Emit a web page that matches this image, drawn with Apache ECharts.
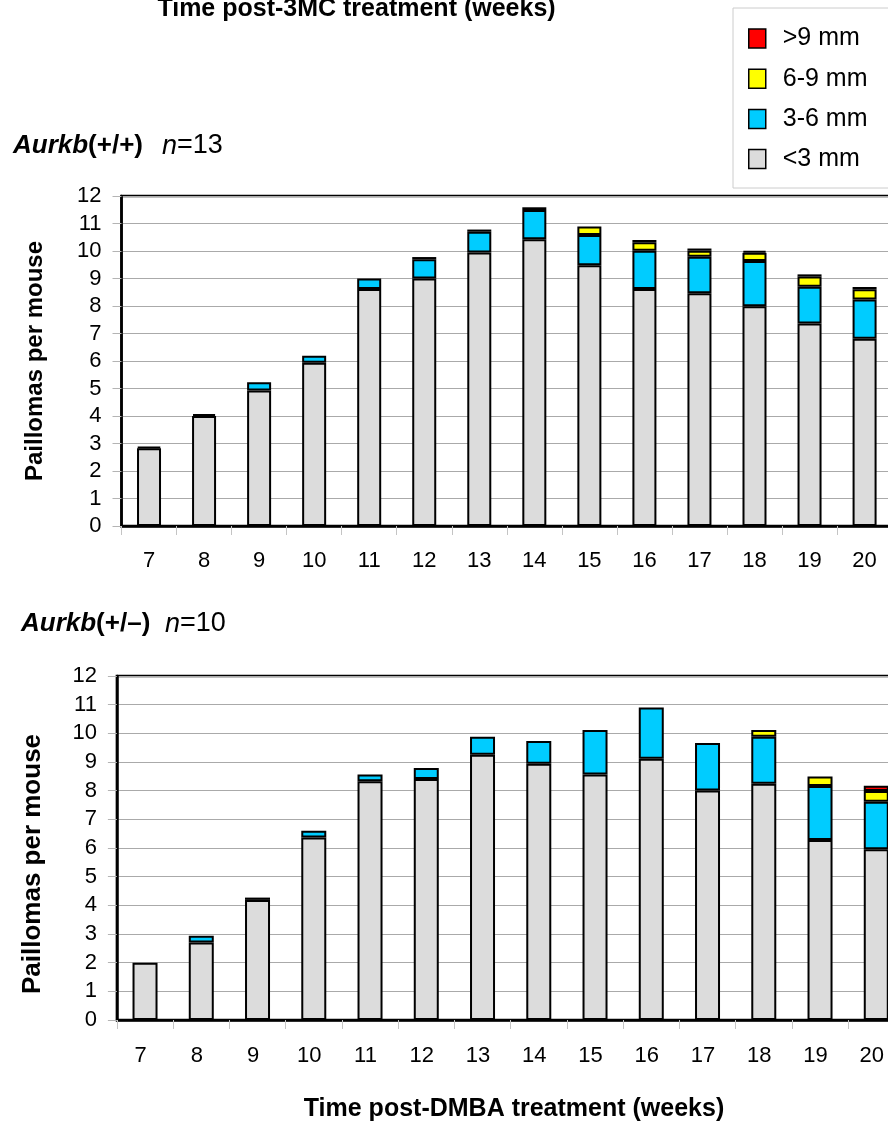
<!DOCTYPE html>
<html>
<head>
<meta charset="utf-8">
<script src="https://cdn.jsdelivr.net/npm/echarts@6/dist/echarts.min.js"></script>
<style>html,body{margin:0;padding:0;background:#fff}#c{width:888px;height:1130px}</style>
</head>
<body>
<div id="c"></div>
<script>
// ---- data ----
const weeks = ['7','8','9','10','11','12','13','14','15','16','17','18','19','20'];
const yTicks = [0,1,2,3,4,5,6,7,8,9,10,11,12];
const sizeNames = ['<3 mm','3-6 mm','6-9 mm','>9 mm'];
const legendOrder = ['>9 mm','6-9 mm','3-6 mm','<3 mm'];

// Aurkb(+/+) n=13
const wtLt3  = [2.83, 4.00, 4.93, 5.94, 8.62, 9.00, 9.95, 10.43, 9.48, 8.62, 8.46, 7.99, 7.36, 6.81];
const wt3to6 = [0.05, 0.07, 0.30, 0.25, 0.38, 0.70, 0.75, 1.06, 1.10, 1.39, 1.33, 1.65, 1.34, 1.43];
const wt6to9 = [null, null, null, null, null, 0.08, 0.08, 0.10, 0.31, 0.31, 0.22, 0.30, 0.37, 0.37];
const wtGt9  = [null, null, null, null, null, null, null, null, null, 0.08, 0.08, 0.06, 0.08, 0.08];

// Aurkb(+/-) n=10
const hetLt3  = [2.00, 2.70, 4.19, 6.37, 8.33, 8.41, 9.25, 8.94, 8.56, 9.11, 8.01, 8.24, 6.28, 5.96];
const het3to6 = [null, 0.24, 0.08, 0.23, 0.23, 0.38, 0.63, 0.79, 1.56, 1.79, 1.65, 1.64, 1.88, 1.65];
const het6to9 = [null, null, null, null, null, null, null, null, null, null, null, 0.24, 0.33, 0.38];
const hetGt9  = [null, null, null, null, null, null, null, null, null, null, null, null, null, 0.18];

// ---- styles ----
const FONT = "'Liberation Sans', Arial, sans-serif";
const colors = {'<3 mm':'#dcdcdc','3-6 mm':'#00ccff','6-9 mm':'#ffff00','>9 mm':'#ff0000'};

function bar(name, data, idx, width){
  return {
    name: name, type: 'bar', stack: idx === 0 ? 'wt' : 'het',
    xAxisIndex: idx, yAxisIndex: idx, data: data, barWidth: width,
    itemStyle: {color: colors[name], borderColor: '#000', borderWidth: 2}
  };
}

function xAxisCfg(gi, margin, pad){
  return {
    type: 'category', gridIndex: gi, data: weeks, boundaryGap: true,
    axisLine: {show: true, lineStyle: {color: '#000', width: 2.5}},
    axisTick: {show: true, length: 9, lineStyle: {color: '#c4c4c4', width: 1}},
    axisLabel: {color: '#000', fontFamily: FONT, fontSize: 22, margin: margin, padding: pad},
    splitLine: {show: false}
  };
}
function yAxisCfg(gi){
  return {
    type: 'value', gridIndex: gi, min: yTicks[0], max: yTicks[yTicks.length-1], interval: 1,
    axisLine: {show: true, lineStyle: {color: '#000', width: 2.5}},
    axisTick: {show: true, length: 9, lineStyle: {color: '#b4b4b4', width: 1}},
    axisLabel: {color: '#000', fontFamily: FONT, fontSize: 22, margin: 20,
                verticalAlign: 'middle', padding: [16, 0, 0, 0]},
    splitLine: {show: true, lineStyle: {color: '#aaaaaa', width: 1.2}}
  };
}

const chart = echarts.init(document.getElementById('c'), null, {renderer: 'canvas'});
chart.setOption({
  animation: false,
  backgroundColor: '#fff',
  grid: [
    {left: 121.5, top: 196, width: 770.6, height: 330, outerBoundsMode: 'none', containLabel: false,
     show: true, borderColor: '#000', borderWidth: 2.5, backgroundColor: 'transparent'},
    {left: 116.9, top: 676, width: 787.5, height: 344, outerBoundsMode: 'none', containLabel: false,
     show: true, borderColor: '#000', borderWidth: 2.5, backgroundColor: 'transparent'}
  ],
  xAxis: [xAxisCfg(0, 24, [0, 0, 0, 0]), xAxisCfg(1, 25, [0, 9, 0, 0])],
  yAxis: [yAxisCfg(0), yAxisCfg(1)],
  legend: {
    data: legendOrder, orient: 'vertical', left: 748, top: 26, padding: 0,
    icon: 'rect', itemWidth: 17, itemHeight: 19, itemGap: 15.2,
    itemStyle: {borderColor: '#000', borderWidth: 1.5},
    textStyle: {color: '#000', fontFamily: FONT, fontSize: 25, padding: [0,0,0,12]}
  },
  graphic: [
    {type: 'rect', shape: {x: 733, y: 8, width: 220, height: 180}, style: {fill: 'transparent', stroke: '#cccccc', lineWidth: 1}, z: 0},
    {type: 'text', x: 356.5, y: 8.7, style: {text: 'Time post-3MC treatment (weeks)', fontFamily: FONT, fontWeight: 'bold', fontSize: 25, fill: '#000', align: 'center', verticalAlign: 'middle'}},
    {type: 'text', x: 514, y: 1108.7, style: {text: 'Time post-DMBA treatment (weeks)', fontFamily: FONT, fontWeight: 'bold', fontSize: 25, fill: '#000', align: 'center', verticalAlign: 'middle'}},
    {type: 'text', x: 35, y: 361, rotation: Math.PI/2, style: {text: 'Paillomas per mouse', fontFamily: FONT, fontWeight: 'bold', fontSize: 24, fill: '#000', align: 'center', verticalAlign: 'middle'}},
    {type: 'text', x: 33, y: 864, rotation: Math.PI/2, style: {text: 'Paillomas per mouse', fontFamily: FONT, fontWeight: 'bold', fontSize: 26, fill: '#000', align: 'center', verticalAlign: 'middle'}},
    {type: 'text', x: 13, y: 146, style: {text: '{a|Aurkb}{b|(+/+)}', verticalAlign: 'middle', align: 'left',
      rich: {a: {fontFamily: FONT, fontWeight: 'bold', fontStyle: 'italic', fontSize: 26, fill: '#000'},
             b: {fontFamily: FONT, fontWeight: 'bold', fontSize: 26, fill: '#000'}}}},
    {type: 'text', x: 162, y: 146, style: {text: '{a|n}{b|=13}', verticalAlign: 'middle', align: 'left',
      rich: {a: {fontFamily: FONT, fontStyle: 'italic', fontSize: 27, fill: '#000'},
             b: {fontFamily: FONT, fontSize: 27, fill: '#000'}}}},
    {type: 'text', x: 21, y: 624, style: {text: '{a|Aurkb}{b|(+/\u2013)}', verticalAlign: 'middle', align: 'left',
      rich: {a: {fontFamily: FONT, fontWeight: 'bold', fontStyle: 'italic', fontSize: 26, fill: '#000'},
             b: {fontFamily: FONT, fontWeight: 'bold', fontSize: 26, fill: '#000'}}}},
    {type: 'text', x: 165, y: 624, style: {text: '{a|n}{b|=10}', verticalAlign: 'middle', align: 'left',
      rich: {a: {fontFamily: FONT, fontStyle: 'italic', fontSize: 27, fill: '#000'},
             b: {fontFamily: FONT, fontSize: 27, fill: '#000'}}}}
  ],
  series: [
    bar(sizeNames[0], wtLt3, 0, 24),
    bar(sizeNames[1], wt3to6, 0, 24),
    bar(sizeNames[2], wt6to9, 0, 24),
    bar(sizeNames[3], wtGt9, 0, 24),
    bar(sizeNames[0], hetLt3, 1, 25),
    bar(sizeNames[1], het3to6, 1, 25),
    bar(sizeNames[2], het6to9, 1, 25),
    bar(sizeNames[3], hetGt9, 1, 25)
  ]
});
</script>
</body>
</html>
